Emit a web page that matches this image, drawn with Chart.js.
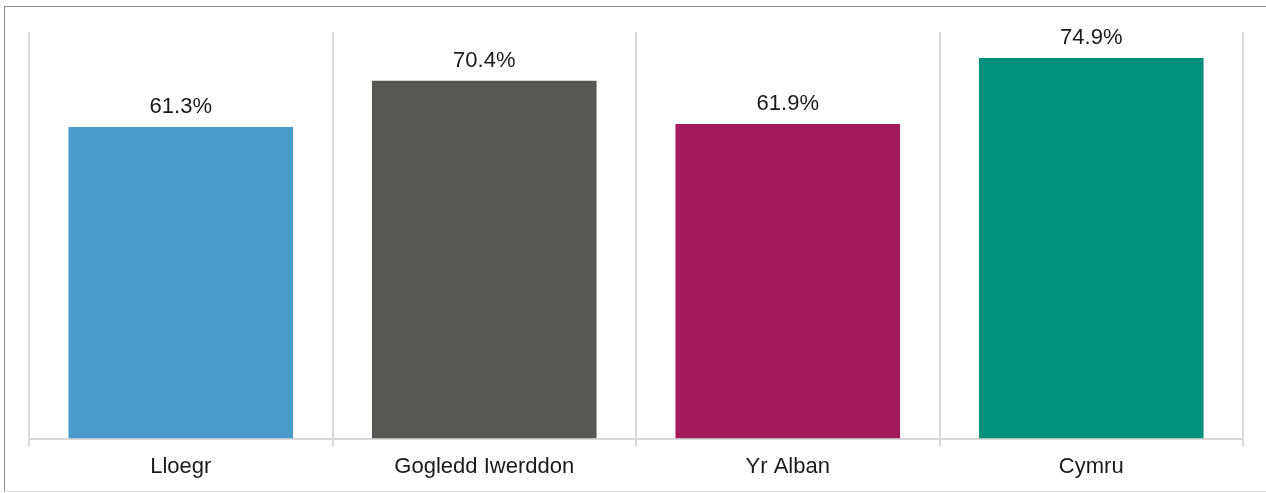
<!DOCTYPE html>
<html>
<head>
<meta charset="utf-8">
<script src="https://cdn.jsdelivr.net/npm/chart.js@4"></script>
<style>
  html, body { margin: 0; padding: 0; background: #fff; }
  #wrap { position: relative; width: 1266px; height: 493px; }
  #frame {
    position: absolute; left: 4px; top: 6px; width: 1262px; height: 486px;
    border-top: 1px solid #8c8c8c; border-left: 1px solid #8c8c8c;
    border-bottom: 1px solid #e3e3e3; box-sizing: border-box;
  }
  canvas { position: absolute; left: 0; top: 0; }
</style>
</head>
<body>
<div id="wrap">
  <div id="frame"></div>
  <canvas id="myChart" width="1266" height="493"></canvas>
</div>
<script>
const countries = ['Lloegr', 'Gogledd Iwerddon', 'Yr Alban', 'Cymru']
const percentages = [61.3, 70.4, 61.9, 74.9]
const barColours = ['#4a9bc9', '#575756', '#a31a5a', '#00907c']

// simple value labels above each bar (no datalabels plugin available)
const valueLabels = {
  id: 'valueLabels',
  afterDatasetsDraw(chart) {
    const ctx = chart.ctx
    const meta = chart.getDatasetMeta(0)
    ctx.save()
    ctx.font = '22px "Liberation Sans", Arial, sans-serif'
    ctx.fillStyle = '#1a1a1a'
    ctx.textAlign = 'center'
    ctx.textBaseline = 'alphabetic'
    meta.data.forEach((bar, i) => {
      ctx.fillText(percentages[i].toFixed(1) + '%', bar.x, bar.y - 14)
    })
    ctx.restore()
  }
}

const ctx = document.getElementById('myChart').getContext('2d')
const myChart = new Chart(ctx, {
  type: 'bar',
  data: {
    labels: countries,
    datasets: [{
      data: percentages,
      backgroundColor: barColours,
      borderWidth: 0,
      categoryPercentage: 1,
      barPercentage: 0.74
    }]
  },
  options: {
    responsive: false,
    animation: false,
    layout: { padding: { left: 29, right: 23, top: 32, bottom: 6 } },
    plugins: {
      legend: { display: false },
      tooltip: { enabled: false }
    },
    scales: {
      x: {
        grid: {
          color: '#d9d9d9',
          lineWidth: 2,
          tickLength: 8
        },
        border: { color: '#d9d9d9', width: 2 },
        ticks: {
          color: '#1a1a1a',
          padding: 7,
          font: { family: '"Liberation Sans", Arial, sans-serif', size: 22 }
        }
      },
      y: {
        display: false,
        min: 0,
        max: 80
      }
    }
  },
  plugins: [valueLabels]
})
</script>
</body>
</html>
